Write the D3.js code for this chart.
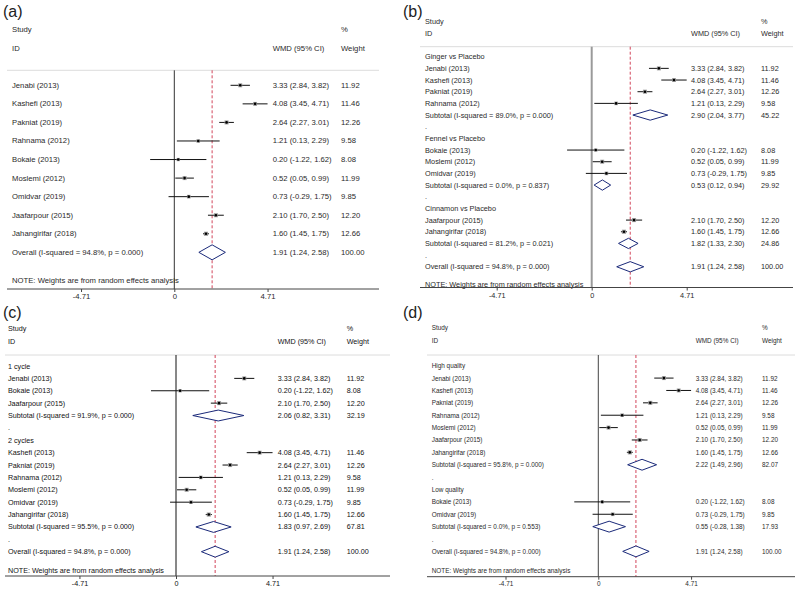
<!DOCTYPE html>
<html><head><meta charset="utf-8">
<script src="https://cdn.jsdelivr.net/npm/d3@7"></script>
<style>body{margin:0;background:#fff}svg{display:block}text{font-family:"Liberation Sans",Arial,sans-serif}</style>
</head><body><svg id="c" width="800" height="591"></svg>
<script>
// ---- data ----
const studyNames = ["Jenabi (2013)", "Kashefi (2013)", "Pakniat (2019)", "Rahnama (2012)", "Bokaie (2013)", "Moslemi (2012)", "Omidvar (2019)", "Jaafarpour (2015)", "Jahangirifar (2018)"];
const wmd    = [3.33, 4.08, 2.64, 1.21, 0.20, 0.52, 0.73, 2.10, 1.60];
const ciLow  = [2.84, 3.45, 2.27, 0.13, -1.22, 0.05, -0.29, 1.70, 1.45];
const ciHigh = [3.82, 4.71, 3.01, 2.29, 1.62, 0.99, 1.75, 2.50, 1.75];
const weights = [11.92, 11.46, 12.26, 9.58, 8.08, 11.99, 9.85, 12.20, 12.66];
const overallEst = [1.91, 1.24, 2.58];
const overallHet = ["94.8%", "0.000"];
const tickValues = [-4.71, 0, 4.71];

// panel (b) subgroups
const bGroups = ["Ginger vs Placebo", "Fennel vs Placebo", "Cinnamon vs Placebo"];
const bMembers = [[0, 1, 2, 3], [4, 5, 6], [7, 8]];
const bSubEst = [2.90, 0.53, 1.82];
const bSubLo = [2.04, 0.12, 1.33];
const bSubHi = [3.77, 0.94, 2.30];
const bSubW = [45.22, 29.92, 24.86];
const bSubI2 = ["89.0%", "0.0%", "81.2%"];
const bSubP = ["0.000", "0.837", "0.021"];

// panel (c) subgroups
const cGroups = ["1 cycle", "2 cycles"];
const cMembers = [[0, 4, 7], [1, 2, 3, 5, 6, 8]];
const cSubEst = [2.06, 1.83];
const cSubLo = [0.82, 0.97];
const cSubHi = [3.31, 2.69];
const cSubW = [32.19, 67.81];
const cSubI2 = ["91.9%", "95.5%"];
const cSubP = ["0.000", "0.000"];

// panel (d) subgroups
const dGroups = ["High quality", "Low quality"];
const dMembers = [[0, 1, 2, 3, 5, 7, 8], [4, 6]];
const dSubEst = [2.22, 0.55];
const dSubLo = [1.49, -0.28];
const dSubHi = [2.96, 1.38];
const dSubW = [82.07, 17.93];
const dSubI2 = ["95.8%", "0.0%"];
const dSubP = ["0.000", "0.553"];

// ---- helpers ----
const f2 = v => v.toFixed(2);
function studyRow(i) {
  return {type: "study", label: studyNames[i], est: wmd[i], lo: ciLow[i], hi: ciHigh[i],
    val: `${f2(wmd[i])} (${f2(ciLow[i])}, ${f2(ciHigh[i])})`, w: weights[i]};
}
function diamondRow(label, est, lo, hi, w) {
  return {type: "diamond", label, est, lo, hi, val: `${f2(est)} (${f2(lo)}, ${f2(hi)})`, w};
}
function overallRow() {
  return diamondRow(`Overall  (I-squared = ${overallHet[0]}, p = ${overallHet[1]})`, overallEst[0], overallEst[1], overallEst[2], 100);
}
function groupedRows(groups, members, est, lo, hi, w, i2, p) {
  const rows = [];
  groups.forEach((g, k) => {
    rows.push({type: "head", label: g});
    members[k].forEach(i => rows.push(studyRow(i)));
    rows.push(diamondRow(`Subtotal  (I-squared = ${i2[k]}, p = ${p[k]})`, est[k], lo[k], hi[k], w[k]));
    rows.push({type: "head", label: "."});
  });
  rows.push(overallRow());
  return rows;
}

const rowsA = studyNames.map((_, i) => studyRow(i)).concat([overallRow()]);
const rowsB = groupedRows(bGroups, bMembers, bSubEst, bSubLo, bSubHi, bSubW, bSubI2, bSubP);
const rowsC = groupedRows(cGroups, cMembers, cSubEst, cSubLo, cSubHi, cSubW, cSubI2, cSubP);
const rowsD = groupedRows(dGroups, dMembers, dSubEst, dSubLo, dSubHi, dSubW, dSubI2, dSubP);

// ---- layout ----
const panels = [
  {tag: "(a)", tagX: 3, tagY: 17, rows: rowsA, fs: 7.7, col: "#2a2a2a",
   studyY: 29, idY: 48, topLine: 70.3, lx1: 7, lx2: 379, first: 85.3, step: 18.56,
   noteY: 280.3, axisY: 289, x0: 174.3, ppu: 19.8, textX: 12, valX: 272.7, wX: 341,
   zeroCol: "#333", zeroW: 1},
  {tag: "(b)", tagX: 403, tagY: 17, rows: rowsB, fs: 7.3, col: "#2a2a2a",
   studyY: 21.7, idY: 33.3, topLine: 46.7, lx1: 420, lx2: 793, first: 56.7, step: 11.67,
   noteY: 284.3, axisY: 287.5, x0: 591.7, ppu: 20.17, textX: 425, valX: 691, wX: 761,
   zeroCol: "#9a9a9a", zeroW: 2},
  {tag: "(c)", tagX: 3, tagY: 318, rows: rowsC, fs: 7.2, col: "#111",
   studyY: 328.3, idY: 341, topLine: 355, lx1: 5, lx2: 390, first: 366, step: 12.38,
   noteY: 570, axisY: 576, x0: 176, ppu: 20.5, textX: 8, valX: 277.7, wX: 346.7,
   zeroCol: "#111", zeroW: 1},
  {tag: "(d)", tagX: 403, tagY: 318, rows: rowsD, fs: 6.4, col: "#2a2a2a",
   studyY: 327.7, idY: 340.7, topLine: 355, lx1: 427, lx2: 795, first: 365.7, step: 12.38,
   noteY: 570, axisY: 576.7, x0: 598.3, ppu: 19.7, textX: 431.7, valX: 695.7, wX: 762,
   zeroCol: "#444", zeroW: 1}
];

const svg = d3.select("#c");

panels.forEach(P => {
  const g = svg.append("g");
  const x = d3.scaleLinear().domain([-4.71, 4.71]).range([P.x0 - 4.71 * P.ppu, P.x0 + 4.71 * P.ppu]);
  const y = d3.scaleLinear().domain([0, 1]).range([P.first, P.first + P.step]);
  const txt = (tx, ty, s, anchor) => g.append("text").attr("x", tx).attr("y", ty)
    .attr("dominant-baseline", "central").attr("font-size", P.fs).attr("fill", P.col)
    .attr("text-anchor", anchor || "start").text(s);

  g.append("text").attr("x", P.tagX).attr("y", P.tagY).attr("font-size", 16).attr("fill", "#222").text(P.tag);

  txt(P.textX, P.studyY, "Study");
  txt(P.textX, P.idY, "ID");
  txt(P.valX, P.idY, "WMD (95% CI)");
  txt(P.wX, P.studyY, "%");
  txt(P.wX, P.idY, "Weight");

  g.append("line").attr("x1", P.lx1).attr("x2", P.lx2).attr("y1", P.topLine).attr("y2", P.topLine)
    .attr("stroke", "#dcdcdc").attr("stroke-width", 1);

  // zero line
  g.append("line").attr("x1", x(0)).attr("x2", x(0)).attr("y1", P.topLine).attr("y2", P.axisY)
    .attr("stroke", P.zeroCol).attr("stroke-width", P.zeroW);
  // overall dashed line
  g.append("line").attr("x1", x(overallEst[0])).attr("x2", x(overallEst[0])).attr("y1", P.topLine).attr("y2", P.axisY)
    .attr("stroke", "#d2455a").attr("stroke-width", 1).attr("stroke-dasharray", "3,2");

  P.rows.forEach((r, i) => {
    const ry = y(i);
    txt(P.textX, ry, r.label);
    if (r.type === "study") {
      g.append("line").attr("x1", x(r.lo)).attr("x2", x(r.hi)).attr("y1", ry).attr("y2", ry)
        .attr("stroke", "#111").attr("stroke-width", 1);
      const s = 1.15 * Math.sqrt(r.w);
      g.append("rect").attr("x", x(r.est) - s / 2).attr("y", ry - s / 2).attr("width", s).attr("height", s)
        .attr("fill", "#9a9a9a");
      g.append("circle").attr("cx", x(r.est)).attr("cy", ry).attr("r", 1.3).attr("fill", "#000");
    }
    if (r.type === "diamond") {
      const h = Math.min(P.step * 0.44, 7.5);
      g.append("path").attr("d", `M${x(r.lo)},${ry}L${x(r.est)},${ry - h}L${x(r.hi)},${ry}L${x(r.est)},${ry + h}Z`)
        .attr("fill", "#fff").attr("stroke", "#1b2a7a").attr("stroke-width", 1);
    }
    if (r.val) {
      txt(P.valX, ry, r.val);
      txt(P.wX, ry, f2(r.w));
    }
  });

  txt(P.textX, P.noteY, "NOTE: Weights are from random effects analysis");

  // axis
  g.append("line").attr("x1", P.lx1).attr("x2", P.lx2).attr("y1", P.axisY).attr("y2", P.axisY)
    .attr("stroke", "#444").attr("stroke-width", 1);
  const ax = g.append("g").attr("transform", `translate(0,${P.axisY})`)
    .call(d3.axisBottom(x).tickValues(tickValues).tickSize(3).tickPadding(2)
      .tickFormat(d => d === 0 ? "0" : d.toFixed(2)));
  ax.select(".domain").remove();
  ax.selectAll(".tick line").attr("stroke", "#444");
  ax.selectAll(".tick text").attr("font-size", P.fs).attr("fill", P.col)
    .attr("font-family", '"Liberation Sans",Arial,sans-serif');
});
</script></body></html>
